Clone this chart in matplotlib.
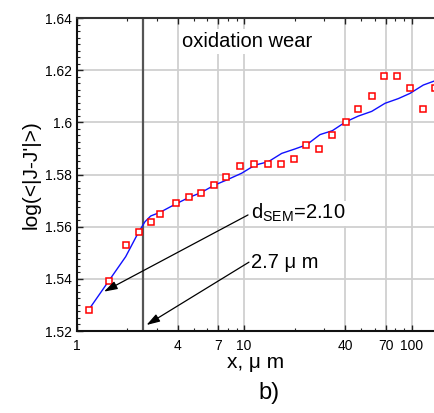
import matplotlib
matplotlib.use("Agg")
import matplotlib.pyplot as plt
from matplotlib.ticker import FixedLocator, NullFormatter, MultipleLocator, LogLocator

plt.rcParams['font.family'] = ['Liberation Sans', 'DejaVu Sans']

# measured data (red squares)
x_pts = [1.19, 1.566, 1.968, 2.345, 2.766, 3.14, 3.92, 4.71, 5.52, 6.63, 7.82, 9.48,
         11.44, 13.87, 16.5, 19.75, 23.5, 28.1, 33.4, 40.5, 47.6, 57.7, 68.6, 82.0,
         97.3, 116.8, 137.8]
y_pts = [1.528, 1.5393, 1.553, 1.558, 1.5619, 1.565, 1.5691, 1.5713, 1.573, 1.5761,
         1.5791, 1.5833, 1.5841, 1.5841, 1.5841, 1.5858, 1.5914, 1.5899, 1.5953, 1.6001,
         1.605, 1.610, 1.6179, 1.6179, 1.6132, 1.605, 1.6132]

# fitted curve (blue line)
x_fit = [1.184, 1.566, 1.961, 2.332, 2.557, 2.766, 3.143, 3.90, 4.68, 5.50, 6.63, 7.86,
         9.66, 11.6, 13.93, 16.75, 20.1, 23.6, 28.35, 33.6, 40.4, 48.0, 57.7, 69.3,
         83.2, 97.7, 117.3, 135.9]
y_fit = [1.5283, 1.5395, 1.5485, 1.5577, 1.5619, 1.5641, 1.5655, 1.5687, 1.5712, 1.5730,
         1.5759, 1.5779, 1.5805, 1.5836, 1.5849, 1.5881, 1.5898, 1.5914, 1.5953, 1.5968,
         1.6002, 1.6024, 1.6042, 1.6073, 1.6091, 1.6111, 1.6143, 1.6158]

x_ticks = [1, 4, 7, 10, 40, 70, 100]
x_ticklabels = ['1', '4', '7', '10', '40', '70', '100']
y_ticks = [1.52, 1.54, 1.56, 1.58, 1.60, 1.62, 1.64]
y_ticklabels = ['1.52', '1.54', '1.56', '1.58', '1.6', '1.62', '1.64']
d_sem_x = 2.478

fig = plt.figure(figsize=(4.34, 4.13), dpi=100)
ax = fig.add_axes([0.1767, 0.1985, 0.8233, 0.7579])

ax.set_xscale('log')
ax.set_xlim(1, 135.9)
ax.set_ylim(1.52, 1.64)

ax.grid(True, which='major', color='#d0d0d0', lw=1.3, zorder=0)
ax.set_axisbelow(True)

ax.axvline(d_sem_x, color='#555555', lw=1.6, zorder=2)

ax.plot(x_fit, y_fit, color='#1010ff', lw=1.0, zorder=3, clip_on=True)
ax.plot(x_pts, y_pts, ls='none', marker='s', ms=5, mfc='white', mec='#ff0000',
        mew=1.1, zorder=4)

ax.xaxis.set_major_locator(FixedLocator(x_ticks))
ax.set_xticklabels(x_ticklabels)
ax.xaxis.set_minor_locator(LogLocator(base=10, subs=range(2, 10)))
ax.xaxis.set_minor_formatter(NullFormatter())
ax.yaxis.set_major_locator(FixedLocator(y_ticks))
ax.set_yticklabels(y_ticklabels)
ax.yaxis.set_minor_locator(MultipleLocator(0.0025))

ax.tick_params(which='both', direction='in', top=True, right=False, labelsize=10,
               color='#222222')
ax.tick_params(which='major', length=4, width=1.0)
ax.tick_params(which='minor', length=2.5, width=0.8)
ax.tick_params(axis='x', pad=6)

for s in ['left', 'bottom']:
    ax.spines[s].set_linewidth(1.5)
    ax.spines[s].set_color('#111111')
ax.spines['top'].set_linewidth(1.5)
ax.spines['top'].set_color('#333333')
ax.spines['right'].set_visible(False)

ax.set_xlabel('x, \u03bc m', fontsize=15, labelpad=0)
ax.set_ylabel("log(<|J-J'|>)", fontsize=15, labelpad=3)

ax.text(10 ** ((182 - 76.7) / 167.5), 1.631, 'oxidation wear', fontsize=14.5,
        ha='left', va='center', zorder=5,
        bbox=dict(facecolor='white', edgecolor='none', pad=2))

ax.text(10.98, 1.5652, r'd$_{\mathregular{SEM}}$=2.10', fontsize=14.5, ha='left',
        va='center', zorder=5,
        bbox=dict(facecolor='white', edgecolor='none', pad=1))
ax.text(10.98, 1.5461, '2.7 \u03bc m', fontsize=14.5, ha='left', va='center', zorder=5,
        bbox=dict(facecolor='white', edgecolor='none', pad=1))

arrow_kw = dict(arrowstyle='-|>,head_length=0.8,head_width=0.25', color='black',
                lw=0.9, shrinkA=0, shrinkB=0)
ax.annotate('', xy=(1.455, 1.5351), xytext=(10.54, 1.5645), arrowprops=arrow_kw,
            zorder=6)
ax.annotate('', xy=(2.61, 1.5223), xytext=(10.68, 1.5464), arrowprops=arrow_kw,
            zorder=6)

fig.text(269 / 434, 1 - 393 / 413, 'b)', fontsize=17, ha='center', va='center')

fig.savefig('out.png', dpi=100)
